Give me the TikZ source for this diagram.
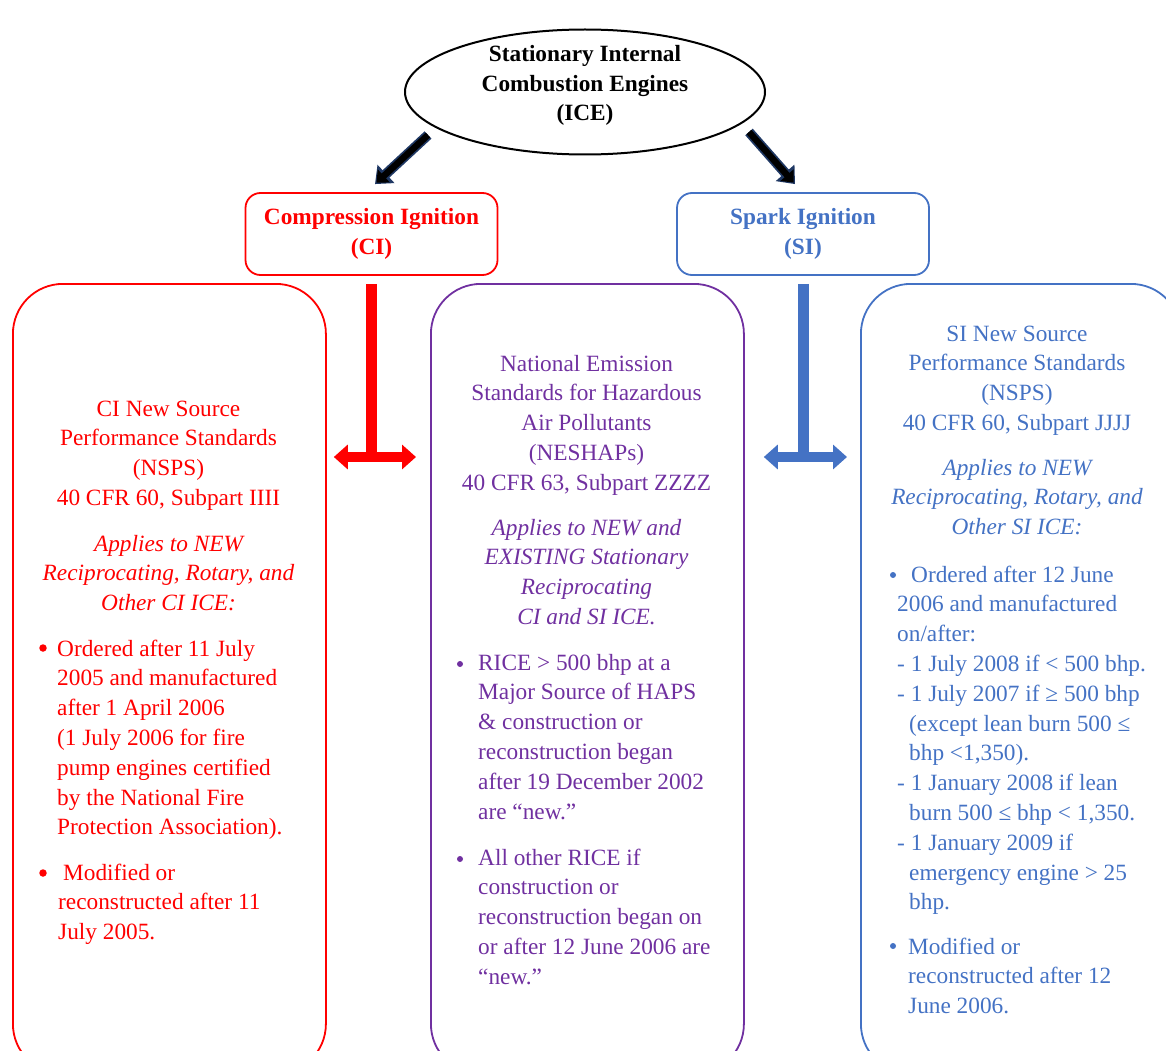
\documentclass[tikz,border=0pt]{standalone}
\usepackage{fontspec}
\setmainfont{Liberation Serif}
\usetikzlibrary{arrows.meta,positioning,shapes.geometric,calc}
\definecolor{ciRed}{HTML}{FF0000}
\definecolor{neshapPurple}{HTML}{7030A0}
\definecolor{siBlue}{HTML}{4472C4}
\definecolor{arrowNavy}{HTML}{1F3864}
\newcommand{\bodysize}{\fontsize{23.3}{29.8}\selectfont}

\begin{document}
\begin{tikzpicture}[x=1pt,y=-1pt]
	\tikzstyle{txt} = [inner sep=0pt,anchor=base,align=center,font=\bodysize]
	\tikzstyle{txtit} = [txt,font=\bodysize\itshape]
	\tikzstyle{txtl} = [inner sep=0pt,anchor=base west,align=left,font=\bodysize]
	\tikzstyle{bul} = [circle,fill,inner sep=0pt,minimum size=7.5pt]
	\tikzstyle{bulsmall} = [circle,fill,inner sep=0pt,minimum size=6pt]
	\tikzstyle{panel} = [draw,line width=1.8pt,rounded corners=50pt,anchor=north west,minimum width=313,minimum height=790]
	\tikzstyle{ignition} = [draw,line width=1.8pt,rounded corners=15pt,minimum width=252,minimum height=82,align=center,font=\bodysize\bfseries]
	\tikzstyle{topArrow} = [line width=10pt,arrowNavy,-{Triangle[width=24pt,length=15pt]}]
	\tikzstyle{topArrowIn} = [line width=6.5pt,black,-{Triangle[width=17pt,length=10pt]},shorten >=2pt]
	
	\useasboundingbox (0,0) rectangle (1166,1051);
	
		% top of the tree (text nodes sit on the baseline of their last line)
		\node[ellipse,draw,line width=2pt,minimum width=360,minimum height=125] (ice) at (585,92) {};
		\node[txt,font=\bodysize\bfseries] (iceText) at (585,121) {Stationary Internal\\Combustion Engines\\(ICE)};
		
		\node[ignition,ciRed] (ci) at (371.5,234) {Compression Ignition\\(CI)};
		\node[ignition,siBlue] (si) at (803,234) {Spark Ignition\\(SI)};
		
		\draw[topArrow] ($(ice.center)+(-157,43)$) -- ($(ci.north)+(3.5,-8)$);
		\draw[topArrowIn] ($(ice.center)+(-157,43)$) -- ($(ci.north)+(3.5,-8)$);
		\draw[topArrow] ($(ice.center)+(164,40)$) -- ($(si.north)+(-8,-8)$);
		\draw[topArrowIn] ($(ice.center)+(164,40)$) -- ($(si.north)+(-8,-8)$);
		
		% the three panels
		\node[panel,ciRed] (ciNsps) at (12,283) {};
		\node[panel,neshapPurple] (neshap) at (430,283) {};
		\node[panel,siBlue,minimum width=320] (siNsps) at (860,283) {};
		
		\coordinate (armLevel) at (0,457);
		\draw[ciRed,line width=11pt] ($(ci.south)+(0,8)$) -- (ci.south |- armLevel);
		\draw[ciRed,line width=10pt,{Triangle[width=24pt,length=14pt]}-{Triangle[width=24pt,length=14pt]}] ($(ciNsps.east |- armLevel)+(7,0)$) -- ($(neshap.west |- armLevel)+(-14,0)$);
		\draw[siBlue,line width=11pt] ($(si.south)+(0,8)$) -- (si.south |- armLevel);
		\draw[siBlue,line width=10pt,{Triangle[width=24pt,length=14pt]}-{Triangle[width=24pt,length=14pt]}] ($(neshap.east |- armLevel)+(19,0)$) -- ($(siNsps.west |- armLevel)+(-13,0)$);
		
		% CI NSPS
		\node[txt,ciRed] (ciHead) at (168.5,505.4) {CI New Source\\Performance Standards\\(NSPS)\\40 CFR 60, Subpart IIII};
		\node[txtit,ciRed] (ciScope) at (168.5,610.6) {Applies to NEW\\Reciprocating, Rotary, and\\Other CI ICE:};
		\node[bul,ciRed] (ciDot1) at (43,648) {};
		\node[txtl,ciRed] (ciItem1) at (57,834.8) {Ordered after 11 July\\2005 and manufactured\\after 1 April 2006\\(1 July 2006 for fire\\pump engines certified\\by the National Fire\\Protection Association).};
		\node[bul,ciRed] (ciDot2) at (43,873) {};
		\node[txtl,ciRed] (ciItem2) at (58,939.6) {\hspace*{5pt}Modified or\\reconstructed after 11\\July 2005.};
		
		% NESHAP
		\node[txt,neshapPurple] (neshapHead) at (586.5,490.2) {National Emission\\Standards for Hazardous\\Air Pollutants\\(NESHAPs)\\40 CFR 63, Subpart ZZZZ};
		\node[txtit,neshapPurple] (neshapScope) at (586.5,624.4) {Applies to NEW and\\EXISTING Stationary\\Reciprocating\\CI and SI ICE.};
		\node[bulsmall,neshapPurple] (neshapDot1) at (460,664) {};
		\node[txtl,neshapPurple] (neshapItem1) at (478,819) {RICE > 500 bhp at a\\Major Source of HAPS\\\& construction or\\reconstruction began\\after 19 December 2002\\are “new.”};
		\node[bulsmall,neshapPurple] (neshapDot2) at (460,859) {};
		\node[txtl,neshapPurple] (neshapItem2) at (478,984.2) {All other RICE if\\construction or\\reconstruction began on\\or after 12 June 2006 are\\“new.”};
		
		% SI NSPS
		\node[txt,siBlue] (siHead) at (1017,430.4) {SI New Source\\Performance Standards\\(NSPS)\\40 CFR 60, Subpart JJJJ};
		\node[txtit,siBlue] (siScope) at (1017,534.6) {Applies to NEW\\Reciprocating, Rotary, and\\Other SI ICE:};
		\node[bulsmall,siBlue] (siDot1) at (893,575) {};
		\node[txtl,siBlue] (siItem1) at (897,909.8) {\hspace*{14pt}Ordered after 12 June\\2006 and manufactured\\on/after:\\- 1 July 2008 if < 500 bhp.\\- 1 July 2007 if ≥ 500 bhp\\\hspace*{12pt}(except lean burn 500 ≤\\\hspace*{12pt}bhp <1,350).\\- 1 January 2008 if lean\\\hspace*{12pt}burn 500 ≤ bhp < 1,350.\\- 1 January 2009 if\\\hspace*{12pt}emergency engine > 25\\\hspace*{12pt}bhp.};
		\node[bulsmall,siBlue] (siDot2) at (893,946) {};
		\node[txtl,siBlue] (siItem2) at (908,1013.6) {Modified or\\reconstructed after 12\\June 2006.};
		
\end{tikzpicture}
\end{document}
